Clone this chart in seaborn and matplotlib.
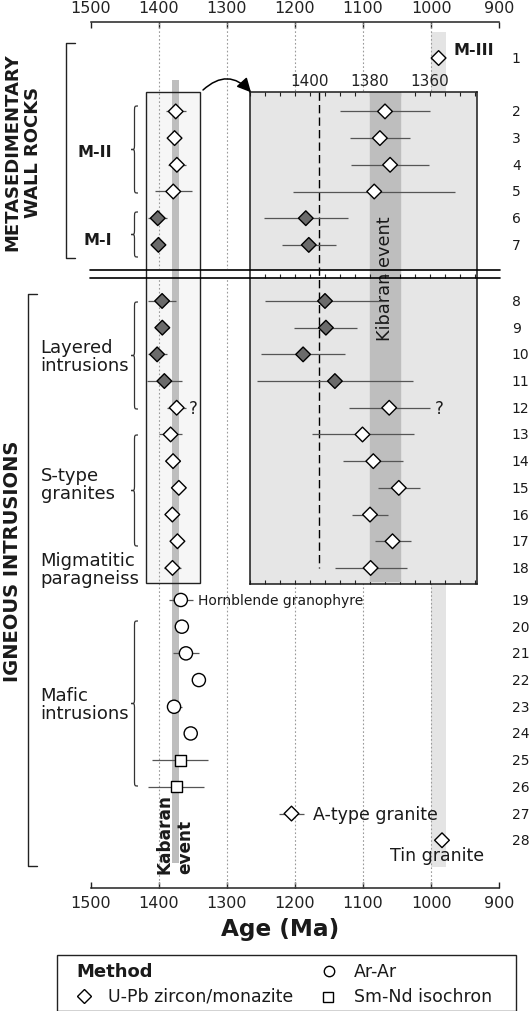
import matplotlib
matplotlib.use("Agg")
import matplotlib.pyplot as plt
import numpy as np
import pandas as pd
import seaborn as sns
from matplotlib.patches import Rectangle, PathPatch
from matplotlib.path import Path
from matplotlib.ticker import FixedLocator, MultipleLocator

# ---- data ----
sample = list(range(1, 29))
age = [989, 1375, 1376.7, 1373.3, 1378.6, 1401.4, 1400.4, 1395, 1394.7, 1402.3,
       1391.7, 1373.6, 1382.5, 1378.9, 1370.4, 1380, 1372.5, 1379.8, 1367.5, 1366,
       1360, 1341, 1377.5, 1353, 1368.5, 1374.5, 1205, 984]
err = [0, 15, 10, 13, 27, 14, 9, 20, 10.5, 14, 26, 13.5, 17, 10, 7, 6, 6, 12,
       17.5, 0, 19, 0, 11, 0, 41, 41, 19, 0]
method = ["U-Pb"] * 18 + ["Ar-Ar"] * 6 + ["Sm-Nd"] * 2 + ["U-Pb"] * 2
fill = ["white"] * 5 + ["dark"] * 6 + ["white"] * 17
age_ticks = [1500, 1400, 1300, 1200, 1100, 1000, 900]
inset_ticks = [1400, 1380, 1360]
kibaran = (1380, 1370)
tin_band = (1000, 978)
inset_ref = 1397

marker_map = {"U-Pb": "D", "Ar-Ar": "o", "Sm-Nd": "s"}
size_map = {"U-Pb": 56, "Ar-Ar": 90, "Sm-Nd": 64}
fill_colors = {"white": "white", "dark": "#6b6b6b"}


def row_pos(n):
    # rows with a gap after sample 1, the axis break after 7 and a small step after 18
    return n - 1 + (n >= 2) + 1.1 * (n >= 8) + 0.2 * (n >= 19)


df = pd.DataFrame({"sample": sample, "age": age, "err": err,
                   "method": method, "fill": fill})
df["ypos"] = df["sample"].apply(row_pos)


def px2p(y):
    # figure pixel row -> row units
    return (y - 59) / 26.7


sns.set_style("white")
plt.rcParams["font.family"] = ["DejaVu Sans"]
plt.rcParams["text.color"] = "#1a1a1a"

W, H = 532, 1012
fig = plt.figure(figsize=(W / 100, H / 100), dpi=100)

ax = fig.add_axes([90.6 / W, 1 - 889.3 / H, 408.6 / W, (889.3 - 22.7) / H])
ins = fig.add_axes([250 / W, 1 - 585 / H, 227.4 / W, 492 / H])
ov = fig.add_axes([0, 0, 1, 1])
ov.set_xlim(0, W)
ov.set_ylim(H, 0)
ov.axis("off")
ov.patch.set_alpha(0)

# ---- main panel ----
ax.add_patch(Rectangle((1418.5, px2p(93)), 1339.2 - 1418.5, px2p(584) - px2p(93),
                       facecolor="#f6f6f6", edgecolor="none", zorder=0.6))
ax.add_patch(Rectangle((tin_band[0], px2p(32.7)), tin_band[1] - tin_band[0],
                       px2p(868.3) - px2p(32.7), facecolor="#e4e4e4",
                       edgecolor="none", zorder=0.7))
ax.vlines(age_ticks[1:-1], 0, 1, transform=ax.get_xaxis_transform(),
          colors="#9a9a9a", linestyles=(0, (1.5, 2)), lw=0.8, zorder=0.8)
ax.axhspan(px2p(270.5), px2p(279), color="white", zorder=1)
ax.add_patch(Rectangle((kibaran[0], px2p(81.4)), kibaran[1] - kibaran[0],
                       px2p(863.7) - px2p(81.4), facecolor="#bebebe",
                       edgecolor="none", zorder=1.5))
ax.add_patch(Rectangle((1418.5, px2p(93)), 1339.2 - 1418.5, px2p(584) - px2p(93),
                       fill=False, edgecolor="#222222", lw=1, zorder=2.5))

ax.hlines(df["ypos"], df["age"] - df["err"], df["age"] + df["err"],
          color="#555555", lw=0.9, zorder=3)
sns.scatterplot(data=df, x="age", y="ypos", hue="fill", palette=fill_colors,
                style="method", markers=marker_map, size="method", sizes=size_map,
                edgecolor="black", linewidth=1, legend=False, ax=ax, zorder=4)

ax.set_xlim(1500, 900)
ax.set_ylim(31.10, -1.36)
ax.set_xticks(age_ticks)
ax.set_yticks([])
ax.set_xlabel("")
ax.set_ylabel("")
ax.tick_params(axis="x", top=True, bottom=True, labeltop=True, labelbottom=True,
               direction="in", length=4, width=1, pad=5, labelsize=11.5,
               colors="#222222")
for side in ["left", "right"]:
    ax.spines[side].set_visible(False)
for side in ["top", "bottom"]:
    ax.spines[side].set_linewidth(1.1)
    ax.spines[side].set_color("#222222")
ax.patch.set_alpha(0)

for n, p in zip(df["sample"], df["ypos"]):
    ax.text(1.031, p, str(n), transform=ax.get_yaxis_transform(), ha="left",
            va="center", fontsize=10, clip_on=False)

y = dict(zip(df["sample"], df["ypos"]))
ax.text(966.8, y[1] - 0.3, "M-III", fontweight="bold", fontsize=11.5, va="center")
ax.text(1355.5, y[12], "?", fontsize=12, va="center")
ax.text(1342.7, y[19], "Hornblende granophyre", fontsize=10, va="center")
ax.text(1173.5, y[27], "A-type granite", fontsize=12.5, va="center")
ax.text(1059.9, y[28] + 0.55, "Tin granite", fontsize=12.5, va="center")
ax.text(1376, px2p(873.9), "Kabaran\nevent", rotation=90, ha="center",
        va="bottom", fontweight="bold", fontsize=12.2, multialignment="left",
        zorder=2)

# ---- inset (zoom on the Kibaran ages) ----
ins.set_facecolor("#e6e6e6")
ins.axhspan(px2p(270.5), px2p(279), color="white", zorder=0.5)
ins.axvspan(kibaran[0], kibaran[1], ymin=0.006, color="#bebebe", zorder=1)
ins.vlines(inset_ref, px2p(93), y[18], colors="black", linestyles=(0, (6, 3)),
           lw=1, zorder=1.5)
ins.text(np.mean(kibaran), px2p(279), "Kibaran event", rotation=90, ha="center",
         va="center", fontsize=12.8, zorder=2)
sub = df[df["sample"].between(2, 18)]
ins.hlines(sub["ypos"], sub["age"] - sub["err"], sub["age"] + sub["err"],
           color="#555555", lw=0.9, zorder=3)
sns.scatterplot(data=sub, x="age", y="ypos", hue="fill", palette=fill_colors,
                style="method", markers=marker_map, size="method", sizes=size_map,
                edgecolor="black", linewidth=1, legend=False, ax=ins, zorder=4)
ins.text(1358.3, y[12], "?", fontsize=12, va="center")
ins.set_xlim(1420, 1344.2)
ins.set_ylim(px2p(585), px2p(93))
ins.xaxis.set_major_locator(FixedLocator(inset_ticks))
ins.xaxis.set_minor_locator(MultipleLocator(5))
ins.set_yticks([])
ins.set_xlabel("")
ins.set_ylabel("")
ins.tick_params(axis="x", which="both", top=True, bottom=True, labeltop=True,
                labelbottom=False, direction="in", length=3, width=0.8, pad=3,
                labelsize=11, colors="#222222")
for s in ins.spines.values():
    s.set_linewidth(1.1)
    s.set_color("#1a1a1a")
# tick marks of the lower half showing inside the break
brk_ticks = np.arange(1415, 1344, -5)
ins.vlines(brk_ticks, px2p(279), px2p(274.5), colors="#222222", lw=0.8, zorder=1.2)

# ---- decorations in figure pixels ----
for yb in [270.5, 279]:
    ov.plot([90, 500], [yb, yb], color="black", lw=1.2)

ov.annotate("", xy=(251, 93.3), xytext=(203, 91),
            arrowprops=dict(arrowstyle="-|>,head_length=0.6,head_width=0.3",
                            connectionstyle="arc3,rad=-0.5", color="black",
                            lw=1.1, mutation_scale=14, shrinkA=0, shrinkB=0))

ov.plot([74.7, 66.2, 66.2, 75.3], [44.1, 44.1, 259.3, 259.3], color="#222222", lw=1)
ov.plot([36.6, 27.8, 27.8, 36.6], [295.2, 295.2, 867, 867], color="#222222", lw=1)
ov.text(23, 152, "METASEDIMENTARY\nWALL ROCKS", rotation=90, ha="center",
        va="center", fontweight="bold", fontsize=13, multialignment="center")
ov.text(13, 561, "IGNEOUS INTRUSIONS", rotation=90, ha="center", va="center",
        fontweight="bold", fontsize=14)


def brace(y0, y1, x_arm=138, x_mid=134.5, x_tip=131, r=6):
    ym = (y0 + y1) / 2
    verts = [(x_arm, y0), (x_mid, y0), (x_mid, y0), (x_mid, y0 + r),
             (x_mid, ym - r), (x_mid, ym), (x_mid, ym), (x_tip, ym),
             (x_mid, ym), (x_mid, ym), (x_mid, ym + r),
             (x_mid, y1 - r), (x_mid, y1), (x_mid, y1), (x_arm, y1)]
    codes = [Path.MOVETO] + [Path.CURVE4] * 3 + [Path.LINETO] + [Path.CURVE4] * 6 \
        + [Path.LINETO] + [Path.CURVE4] * 3
    ov.add_patch(PathPatch(Path(verts, codes), fill=False, ec="#333333", lw=0.9))


for y0, y1 in [(107, 194), (213, 258), (303, 410), (436, 547), (622, 787)]:
    brace(y0, y1)

ov.text(112, 152, "M-II", fontweight="bold", fontsize=11.5, ha="right", va="center")
ov.text(112, 240.5, "M-I", fontweight="bold", fontsize=11.5, ha="right", va="center")
for label, yc in [("Layered\nintrusions", 357), ("S-type\ngranites", 485),
                  ("Migmatitic\nparagneiss", 570), ("Mafic\nintrusions", 705)]:
    ov.text(40.7, yc, label, fontsize=13, ha="left", va="center", linespacing=1.05)

ov.text(280, 930, "Age (Ma)", fontweight="bold", fontsize=16.7, ha="center",
        va="center")

# legend box
ov.add_patch(Rectangle((57, 956), 459, 55.5, fill=False, ec="#222222", lw=1))
ov.text(76.3, 972, "Method", fontweight="bold", fontsize=13, va="center")
ov.plot(328.5, 971.5, marker="o", ms=7.5, mfc="white", mec="black", mew=1)
ov.text(354.3, 972, "Ar-Ar", fontsize=12.5, va="center")
ov.plot(84, 996.5, marker="D", ms=7.3, mfc="white", mec="black", mew=1)
ov.text(108.5, 997, "U-Pb zircon/monazite", fontsize=12.5, va="center")
ov.plot(328, 998, marker="s", ms=7, mfc="white", mec="black", mew=1)
ov.text(354.3, 997, "Sm-Nd isochron", fontsize=12.5, va="center")

fig.savefig("out.png", dpi=100)
